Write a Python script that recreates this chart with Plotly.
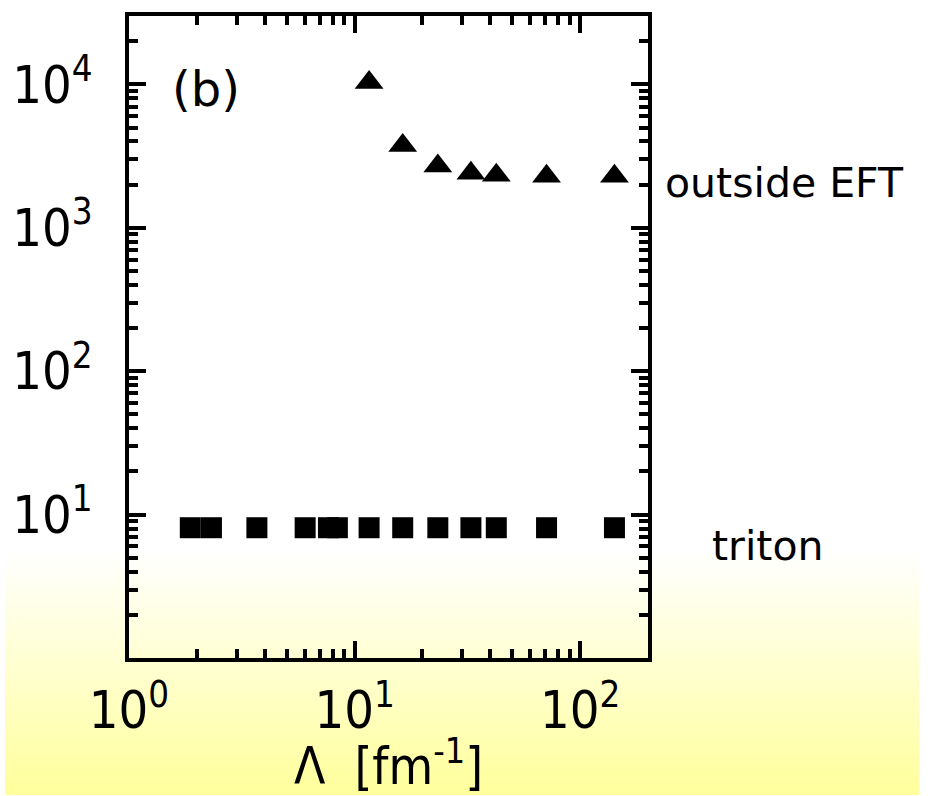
import base64
import plotly.graph_objects as go

# ---- data ----
triton_lambda = [1.87, 2.32, 3.69, 6.04, 7.66, 8.39, 11.6, 16.35, 23.4, 32.8, 42.5, 71.0, 142.0]
triton_vals = [8.1, 8.1, 8.1, 8.1, 8.1, 8.1, 8.1, 8.1, 8.1, 8.1, 8.1, 8.1, 8.1]
outside_lambda = [11.6, 16.35, 23.4, 32.8, 42.5, 71.0, 142.0]
outside_vals = [10300, 3750, 2700, 2400, 2330, 2290, 2290]

x_tickvals = [1, 10, 100]
x_ticktext = ["10<sup>0</sup>", "10<sup>1</sup>", "10<sup>2</sup>"]
y_tickvals = [10, 100, 1000, 10000]
y_ticktext = ["10<sup>1</sup>", "10<sup>2</sup>", "10<sup>3</sup>", "10<sup>4</sup>"]

x_minor = [m * 10 ** k for k in range(0, 3) for m in range(2, 10)]
y_minor = [m * 10 ** k for k in range(0, 5) for m in range(2, 10)]

W, H = 928, 796
L, R, T, B = 125, 280, 13, 138
PW, PH = W - L - R, H - T - B

TICKFONT = "Liberation Sans Narrow, DejaVu Sans Condensed, Arial Narrow, sans-serif"
TEXTFONT = "DejaVu Sans, Noto Sans, sans-serif"

fig = go.Figure()
fig.add_trace(go.Scatter(
    x=triton_lambda, y=triton_vals, mode="markers",
    marker=dict(symbol="square", size=21, color="black"),
    showlegend=False,
))
fig.add_trace(go.Scatter(
    x=outside_lambda, y=outside_vals, mode="markers",
    marker=dict(symbol="triangle-up", size=25, color="black"),
    showlegend=False,
))

axis_common = dict(
    type="log", showgrid=False, zeroline=False,
    showline=True, linecolor="black", linewidth=4, mirror="allticks",
    ticks="inside", ticklen=17, tickwidth=4, tickcolor="black",
    tickfont=dict(family=TICKFONT, size=52, color="black"),
)

fig.update_xaxes(
    **axis_common,
    range=[0, 2.30103],
    tickmode="array", tickvals=x_tickvals, ticktext=x_ticktext,
    minor=dict(ticks="inside", ticklen=9, tickwidth=3.5, tickcolor="black",
               tickmode="array", tickvals=x_minor, showgrid=False),
    ticklabelstandoff=4,
    title=dict(text="Λ  [fm<sup>-1</sup>]", font=dict(family=TICKFONT, size=51, color="black"), standoff=6),
)
fig.update_yaxes(
    **axis_common,
    range=[0, 4.4771],
    tickmode="array", tickvals=y_tickvals, ticktext=y_ticktext,
    minor=dict(ticks="inside", ticklen=9, tickwidth=3.5, tickcolor="black",
               tickmode="array", tickvals=y_minor, showgrid=False),
    ticklabelstandoff=22,
)

svg = (
    '<svg xmlns="http://www.w3.org/2000/svg" width="928" height="796" viewBox="0 0 928 796" '
    'preserveAspectRatio="none"><defs><linearGradient id="g" x1="0" y1="0" x2="0" y2="1">'
    '<stop offset="0" stop-color="#ffffff"/><stop offset="0.69" stop-color="#ffffff"/>'
    '<stop offset="1" stop-color="#ffff9c"/></linearGradient></defs>'
    '<rect x="0" y="0" width="921" height="796" fill="url(#g)"/></svg>'
)
src = "data:image/svg+xml;base64," + base64.b64encode(svg.encode()).decode()

fig.update_layout(
    width=W, height=H,
    margin=dict(l=L, r=R, t=T, b=B, pad=0),
    paper_bgcolor="white",
    plot_bgcolor="rgba(0,0,0,0)",
    images=[dict(source=src, xref="paper", yref="paper",
                 x=-L / PW, y=1 + T / PH, sizex=W / PW, sizey=H / PH,
                 xanchor="left", yanchor="top", sizing="stretch", layer="below")],
    annotations=[
        dict(text="(b)", xref="paper", yref="paper", x=(203 - L) / PW, y=(H - B - 86) / PH,
             showarrow=False, xanchor="center", yanchor="middle",
             font=dict(family=TEXTFONT, size=48, color="black")),
        dict(text="outside EFT", xref="paper", yref="paper", x=(786 - L) / PW, y=(H - B - 181) / PH,
             showarrow=False, xanchor="center", yanchor="middle",
             font=dict(family=TEXTFONT, size=41, color="black")),
        dict(text="triton", xref="paper", yref="paper", x=(768 - L) / PW, y=(H - B - 545) / PH,
             showarrow=False, xanchor="center", yanchor="middle",
             font=dict(family=TEXTFONT, size=41, color="black")),
    ],
)

fig.write_html("out.html")
